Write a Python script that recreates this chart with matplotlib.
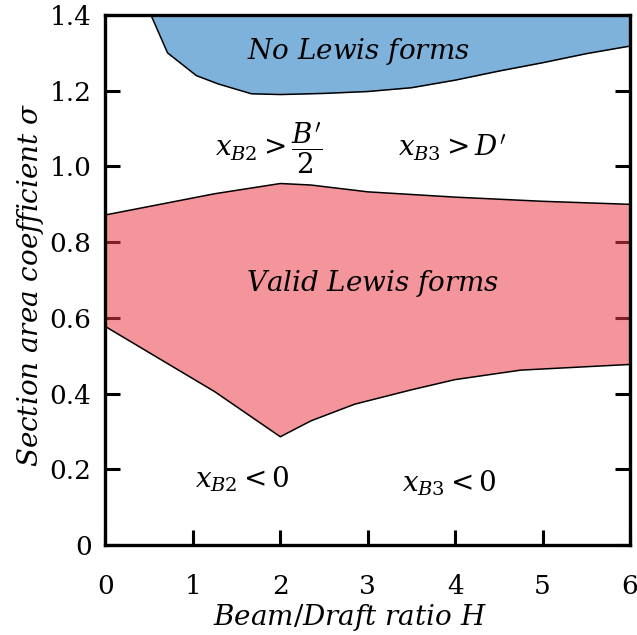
import matplotlib
matplotlib.use('Agg')
import matplotlib.pyplot as plt

plt.rcParams['mathtext.fontset'] = 'dejavuserif'
plt.rcParams['font.family'] = 'DejaVu Serif'

# ---- data ----
# lower edge of the "No Lewis forms" region (upper edge is sigma = 1.4)
no_lewis_h = [0.52, 0.71, 1.04, 1.29, 1.67, 2.0, 2.5, 3.0, 3.5, 4.0, 4.5, 5.0, 5.5, 6.0]
no_lewis_lo = [1.40, 1.30, 1.24, 1.218, 1.192, 1.19, 1.193, 1.198, 1.208, 1.228, 1.252, 1.274, 1.298, 1.318]

# "Valid Lewis forms" region
valid_h_up = [0.0, 1.25, 2.0, 2.35, 3.0, 4.0, 5.0, 6.0]
valid_up = [0.872, 0.928, 0.955, 0.951, 0.933, 0.919, 0.908, 0.900]
valid_h_lo = [0.0, 1.25, 2.0, 2.35, 2.85, 3.5, 4.0, 4.75, 6.0]
valid_lo = [0.577, 0.405, 0.286, 0.328, 0.372, 0.410, 0.437, 0.462, 0.477]

x_ticks = [0, 1, 2, 3, 4, 5, 6]
y_ticks = [0, 0.2, 0.4, 0.6, 0.8, 1.0, 1.2, 1.4]
y_tick_labels = ['0', '0.2', '0.4', '0.6', '0.8', '1.0', '1.2', '1.4']

fig = plt.figure(figsize=(6.37, 6.35), dpi=100)
ax = fig.add_axes([0.1656, 0.1417, 0.8234, 0.8346])

blue = (20 / 255, 115 / 255, 191 / 255)
pink = (236 / 255, 60 / 255, 73 / 255)

# blue region
ax.fill_between(no_lewis_h, no_lewis_lo, 1.4, color=blue, alpha=0.55, lw=0, zorder=1)
ax.plot(no_lewis_h, no_lewis_lo, color='black', lw=1.1, zorder=2)

# red region: polygon from upper and lower edges
poly_x = valid_h_up + valid_h_lo[::-1]
poly_y = valid_up + valid_lo[::-1]
ax.fill(poly_x, poly_y, color=pink, alpha=0.55, lw=0, zorder=1)
ax.plot(valid_h_up, valid_up, color='black', lw=1.1, zorder=2)
ax.plot(valid_h_lo, valid_lo, color='black', lw=1.1, zorder=2)

ax.set_axisbelow(True)
ax.set_xlim(0, 6)
ax.set_ylim(0, 1.4)
ax.set_xticks(x_ticks)
ax.set_yticks(y_ticks)
ax.set_yticklabels(y_tick_labels)
ax.tick_params(direction='in', length=11, width=2.2, labelsize=19,
               right=True, top=False)
ax.tick_params(axis='x', pad=21)
ax.tick_params(axis='y', pad=10)
for sp in ax.spines.values():
    sp.set_linewidth(2.4)

fs = 20
ax.text(2.89, 1.303, r'$No\ Lewis\ forms$', fontsize=fs, ha='center', va='center')
ax.text(3.06, 0.691, r'$Valid\ Lewis\ forms$', fontsize=fs, ha='center', va='center')
ax.text(1.87, 1.027, r"$x_{B2} > \dfrac{B^{\prime}}{2}$", fontsize=fs, ha='center', va='baseline')
ax.text(3.96, 1.027, r"$x_{B3} > D^{\prime}$", fontsize=fs, ha='center', va='baseline')
ax.text(1.57, 0.152, r'$x_{B2} < 0$', fontsize=fs, ha='center', va='baseline')
ax.text(3.93, 0.141, r'$x_{B3} < 0$', fontsize=fs, ha='center', va='baseline')

ax.set_xlabel(r'$Beam/Draft\ ratio\ H$', fontsize=fs)
ax.set_ylabel(r'$Section\ area\ coefficient\ \sigma$', fontsize=fs)
ax.xaxis.set_label_coords(0.466, -0.108)
ax.yaxis.set_label_coords(-0.113, 0.49)

fig.savefig('out.png', dpi=100)
